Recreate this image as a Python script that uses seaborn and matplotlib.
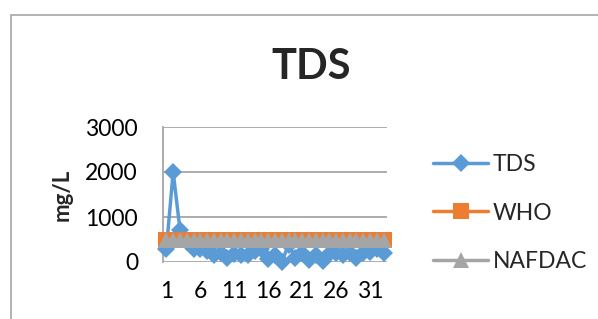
import numpy as np
import pandas as pd
import seaborn as sns
import matplotlib.pyplot as plt
from matplotlib.patches import Rectangle

# sample numbers 1..33
samples = list(range(1, 34))
tds = [300, 2000, 720, 450, 280, 300, 250, 160, 200, 90, 180, 150, 160, 250, 280,
       60, 150, 10, 380, 100, 200, 40, 150, 20, 180, 200, 150, 200, 100, 200, 220, 300, 200]
who = [500] * 33
nafdac = [500] * 33
series_names = ["TDS", "WHO", "NAFDAC"]
x_ticks = [1, 6, 11, 16, 21, 26, 31]
y_ticks = [0, 1000, 2000, 3000]

sns.set_theme(style="white")
plt.rcParams['font.family'] = ['Lato', 'DejaVu Sans']

fig = plt.figure(figsize=(5.98, 3.19), dpi=100)
ax = fig.add_axes([163/598, 1 - 262/319, 224/598, 135/319])

# outer chart border (cut off on the right and bottom)
fig.patches.append(Rectangle((11/598, -0.1), 1.2, 1 - 15/319 + 0.1, transform=fig.transFigure,
                             fill=False, edgecolor="#a6a6a6", linewidth=1.2))

df = pd.DataFrame({"sample": samples, "TDS": tds, "WHO": who, "NAFDAC": nafdac})
styles = {
    "TDS": dict(color="#5B9BD5", marker="D", markersize=9),
    "WHO": dict(color="#ED7D31", marker="s", markersize=11),
    "NAFDAC": dict(color="#A5A5A5", marker="^", markersize=12),
}
for name in series_names:
    st = styles[name]
    sns.lineplot(data=df, x="sample", y=name, ax=ax, color=st["color"], marker=st["marker"],
                 markersize=st["markersize"], markeredgewidth=0, linewidth=2.5, label=name,
                 clip_on=False, zorder=3)

ax.set_xlim(0.5, 33.5)
ax.set_ylim(0, 3000)
ax.set_xticks(x_ticks)
ax.set_yticks(y_ticks)
ax.tick_params(axis="both", length=0, labelsize=16.5, colors="black")
ax.tick_params(axis="y", pad=18)
ax.tick_params(axis="x", pad=14)
ax.yaxis.grid(True, color="#a6a6a6", linewidth=1.3)
ax.set_axisbelow(True)
for s in ["top", "right", "bottom"]:
    ax.spines[s].set_visible(False)
ax.spines["left"].set_color("#a6a6a6")
ax.spines["left"].set_linewidth(1.3)
ax.set_xlabel("")
ax.set_ylabel("mg/L", fontsize=16, fontweight="bold", labelpad=9)

fig.text(311/598, 1 - 67/319, "TDS", ha="center", va="center", fontsize=30, fontweight="bold")

leg = ax.legend(loc="center left", bbox_to_anchor=(433/598, 1 - 213/319), bbox_transform=fig.transFigure,
                frameon=False, fontsize=16.5, handlelength=2.4, labelspacing=1.2, handletextpad=0.2,
                borderpad=0, borderaxespad=0)

fig.savefig("out.png", dpi=100)
